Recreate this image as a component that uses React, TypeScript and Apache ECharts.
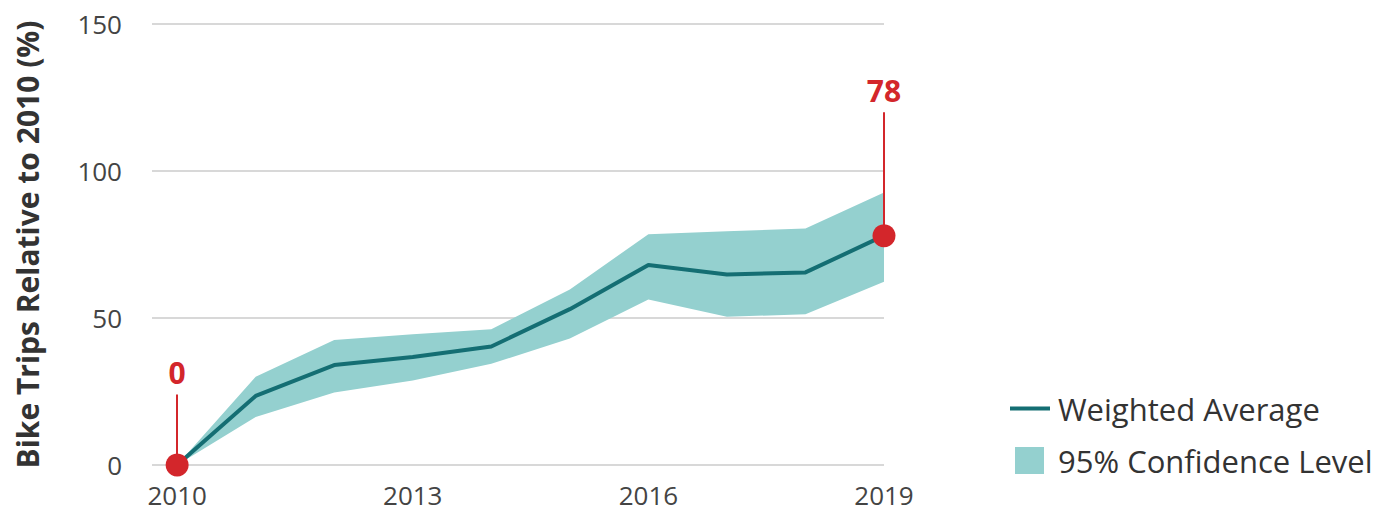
import React, { useEffect, useRef } from "react";
import * as echarts from "echarts";

const years = [2010, 2011, 2012, 2013, 2014, 2015, 2016, 2017, 2018, 2019];
const weightedAverage = [0, 23.5, 34, 36.7, 40.3, 53, 68, 64.8, 65.5, 78];
const upperCI = [0, 30, 42.5, 44.5, 46.2, 59.7, 78.5, 79.5, 80.4, 92.7];
const lowerCI = [0, 16.3, 24.7, 28.7, 34.4, 43, 56.3, 50.4, 51.3, 62.3];
const xTickLabels = [2010, 2013, 2016, 2019];
const yTicks = [0, 50, 100, 150];
const highlightIdx = [0, 9];
const stemTops = [24, 120];

const RED = "#d3262b";
const TEAL = "#146e73";
const BAND = "#94d0cf";
const FONT = "'Open Sans', 'Noto Sans', sans-serif";

export default function App() {
  const ref = useRef<HTMLDivElement>(null);
  useEffect(() => {
    if (!ref.current) return;
    const chart = echarts.init(ref.current, undefined, { renderer: "svg" });
    const pairs = (arr: number[]) => years.map((y, i) => [y, arr[i]]);
    const option: any = {
      animation: false,
      textStyle: { fontFamily: FONT },
      grid: { left: 152, right: 501, top: 24, bottom: 47, containLabel: false },
      xAxis: {
        type: "value",
        min: 2009.68,
        max: 2019,
        axisLine: { show: false },
        axisTick: { show: false },
        splitLine: { show: false },
        axisLabel: {
          customValues: xTickLabels,
          formatter: (v: number) => String(v),
          color: "#444",
          fontSize: 26,
          lineHeight: 28,
          margin: 16,
          fontFamily: FONT,
        },
      },
      yAxis: {
        type: "value",
        min: yTicks[0],
        max: yTicks[yTicks.length - 1],
        interval: 50,
        axisLine: { show: false },
        axisTick: { show: false },
        splitLine: { lineStyle: { color: "#d8d8d8", width: 2 } },
        axisLabel: { color: "#444", fontSize: 26, margin: 30, fontFamily: FONT },
        name: "Bike Trips Relative to 2010 (%)",
        nameLocation: "middle",
        nameGap: 110,
        nameTextStyle: { fontSize: 30, fontWeight: "bold", color: "#333", fontFamily: FONT },
      },
      legend: [
        {
          data: ["Weighted Average"],
          left: 1005,
          top: 388,
          icon: "rect",
          itemWidth: 40,
          itemHeight: 4,
          textStyle: { fontSize: 31, color: "#333", fontFamily: FONT, padding: [0, 0, 0, 3] },
          selectedMode: false,
        },
        {
          data: ["95% Confidence Level"],
          left: 1010,
          top: 440,
          icon: "rect",
          itemWidth: 29,
          itemHeight: 27,
          textStyle: { fontSize: 31, color: "#333", fontFamily: FONT, padding: [0, 0, 0, 9] },
          selectedMode: false,
        },
      ],
      series: [
        {
          name: "95% Confidence Level",
          type: "custom",
          data: years.map((y, i) => [y, lowerCI[i], upperCI[i]]),
          itemStyle: { color: BAND },
          silent: true,
          z: 1,
          renderItem: (params: any, api: any) => {
            if (params.dataIndex !== 0) return null;
            const top = years.map((y, i) => api.coord([y, upperCI[i]]));
            const bottom = years.map((y, i) => api.coord([y, lowerCI[i]])).reverse();
            return {
              type: "polygon",
              shape: { points: top.concat(bottom) },
              style: { fill: BAND },
            };
          },
        },
        {
          name: "Weighted Average",
          type: "line",
          data: pairs(weightedAverage),
          symbol: "none",
          lineStyle: { color: TEAL, width: 4 },
          itemStyle: { color: TEAL },
          silent: true,
          z: 3,
        },
        {
          name: "highlight",
          type: "scatter",
          data: highlightIdx.map((i) => [years[i], weightedAverage[i]]),
          symbolSize: 23,
          itemStyle: { color: RED, opacity: 1 },
          z: 5,
          silent: true,
          markLine: {
            silent: true,
            symbol: ["none", "none"],
            lineStyle: { color: RED, width: 2, type: "solid", opacity: 1 },
            label: {
              show: true,
              position: "end",
              formatter: "{b}",
              color: RED,
              fontWeight: "bold",
              fontSize: 30,
              fontFamily: FONT,
              distance: 7,
            },
            data: highlightIdx.map((i, k) => [
              { coord: [years[i], weightedAverage[i]], name: String(weightedAverage[i]) },
              { coord: [years[i], stemTops[k]] },
            ]),
          },
        },
      ],
    };
    chart.setOption(option);
    return () => chart.dispose();
  }, []);
  return (
    <div
      ref={ref}
      style={{ position: "fixed", left: 0, top: 0, width: 1385, height: 512, background: "#fff" }}
    />
  );
}
